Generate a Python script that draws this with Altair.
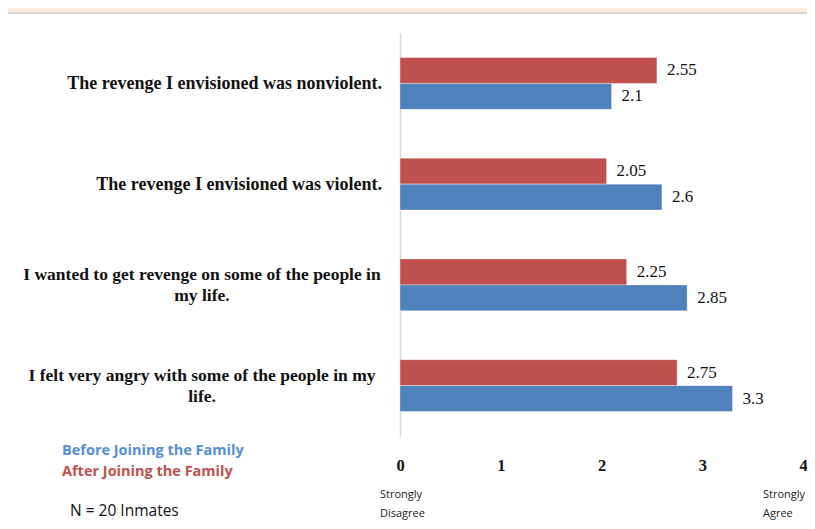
import altair as alt
import pandas as pd

categories = [
    "The revenge I envisioned was nonviolent.",
    "The revenge I envisioned was violent.",
    "I wanted to get revenge on some of the people in\nmy life.",
    "I felt very angry with some of the people in my\nlife.",
]
wrapped = [False, False, True, True]
series = ["After Joining the Family", "Before Joining the Family"]
after_vals = [2.55, 2.05, 2.25, 2.75]
before_vals = [2.1, 2.6, 2.85, 3.3]
x_ticks = [0, 1, 2, 3, 4]

RED = "#C0504D"
BLUE = "#4F81BD"

rows = []
for c, a, b in zip(categories, after_vals, before_vals):
    rows.append({"cat": c, "series": series[0], "value": a})
    rows.append({"cat": c, "series": series[1], "value": b})
df = pd.DataFrame(rows)
cat_df = pd.DataFrame({"cat": categories, "wrapped": wrapped})

W, H = 403, 403

y_scale = alt.Scale(domain=categories, paddingInner=0.484, paddingOuter=0.242)
x_scale = alt.Scale(domain=[0, 4], nice=False, zero=True)
off_scale = alt.Scale(domain=series, paddingInner=0, paddingOuter=0)

bars = alt.Chart(df).mark_bar(stroke="white", strokeWidth=0.6, strokeOpacity=0.6).encode(
    y=alt.Y("cat:N", scale=y_scale,
            axis=alt.Axis(title=None, labels=False, ticks=False, domain=True,
                          domainColor="#D9D9D9", domainWidth=1.5, grid=False)),
    yOffset=alt.YOffset("series:N", scale=off_scale),
    x=alt.X("value:Q", scale=x_scale,
            axis=alt.Axis(title=None, values=x_ticks, format="d", domain=False, ticks=False,
                          grid=False, labelPadding=21, labelFlush=False,
                          labelFont="Liberation Serif", labelFontSize=16.5,
                          labelFontWeight="bold", labelColor="#111111")),
    color=alt.Color("series:N", scale=alt.Scale(domain=series, range=[RED, BLUE]), legend=None),
)

values = alt.Chart(df).mark_text(align="left", baseline="middle", dx=10,
                                 font="Liberation Serif", fontSize=17, color="#111111").encode(
    y=alt.Y("cat:N", scale=y_scale),
    yOffset=alt.YOffset("series:N", scale=off_scale),
    x=alt.X("value:Q", scale=x_scale),
    text=alt.Text("value:Q"),
)

label_single = alt.Chart(cat_df).transform_filter("!datum.wrapped").mark_text(
    align="right", baseline="middle", font="Liberation Serif", fontSize=18, fontWeight="bold",
    color="#111111", lineBreak="\n", dy=1).encode(
    y=alt.Y("cat:N", scale=y_scale),
    x=alt.value(-18),
    text="cat:N",
)

label_wrapped = alt.Chart(cat_df).transform_filter("datum.wrapped").mark_text(
    align="center", baseline="middle", font="Liberation Serif", fontSize=17.5, fontWeight="bold",
    color="#111111", lineBreak="\n", lineHeight=21, dy=-10).encode(
    y=alt.Y("cat:N", scale=y_scale),
    x=alt.value(-198),
    text="cat:N",
)

ann_df = pd.DataFrame({"k": [1]})
base = alt.Chart(ann_df)

top_strip = base.mark_rect(color="#FDEEE3").encode(
    x=alt.value(-392), x2=alt.value(412), y=alt.value(-25), y2=alt.value(-21))
top_line = base.mark_rule(color="#C8C8C8", strokeWidth=1.5).encode(
    x=alt.value(-392), x2=alt.value(412), y=alt.value(-20))

leg_before = base.mark_text(align="left", baseline="middle", font="Open Sans", fontSize=14.5,
                            fontWeight="bold", color="#558ED5").encode(
    x=alt.value(62 - 400), y=alt.value(451 - 33), text=alt.value("Before Joining the Family"))
leg_after = base.mark_text(align="left", baseline="middle", font="Open Sans", fontSize=14.5,
                           fontWeight="bold", color=RED).encode(
    x=alt.value(62 - 400), y=alt.value(472 - 33), text=alt.value("After Joining the Family"))
n_text = base.mark_text(align="left", baseline="middle", font="Open Sans", fontSize=15.5,
                        color="#111111").encode(
    x=alt.value(70 - 400), y=alt.value(511 - 33), text=alt.value("N = 20 Inmates"))

sd = base.mark_text(align="left", baseline="middle", font="Open Sans", fontSize=11,
                    color="#222222", lineBreak="\n", lineHeight=19).encode(
    x=alt.value(380 - 400), y=alt.value(495 - 33), text=alt.value("Strongly\nDisagree"))
sa = base.mark_text(align="left", baseline="middle", font="Open Sans", fontSize=11,
                    color="#222222", lineBreak="\n", lineHeight=19).encode(
    x=alt.value(763 - 400), y=alt.value(495 - 33), text=alt.value("Strongly\nAgree"))

chart = alt.layer(
    top_strip, top_line, bars, values, label_single, label_wrapped,
    leg_before, leg_after, n_text, sd, sa,
).properties(
    width=W, height=H,
    autosize=alt.AutoSizeParams(type="none"),
    padding={"left": 392, "top": 25, "right": 4, "bottom": 85},
    background="white",
).configure_view(stroke=None)

chart.save("out.html", embed_options={"renderer": "svg", "actions": False})
